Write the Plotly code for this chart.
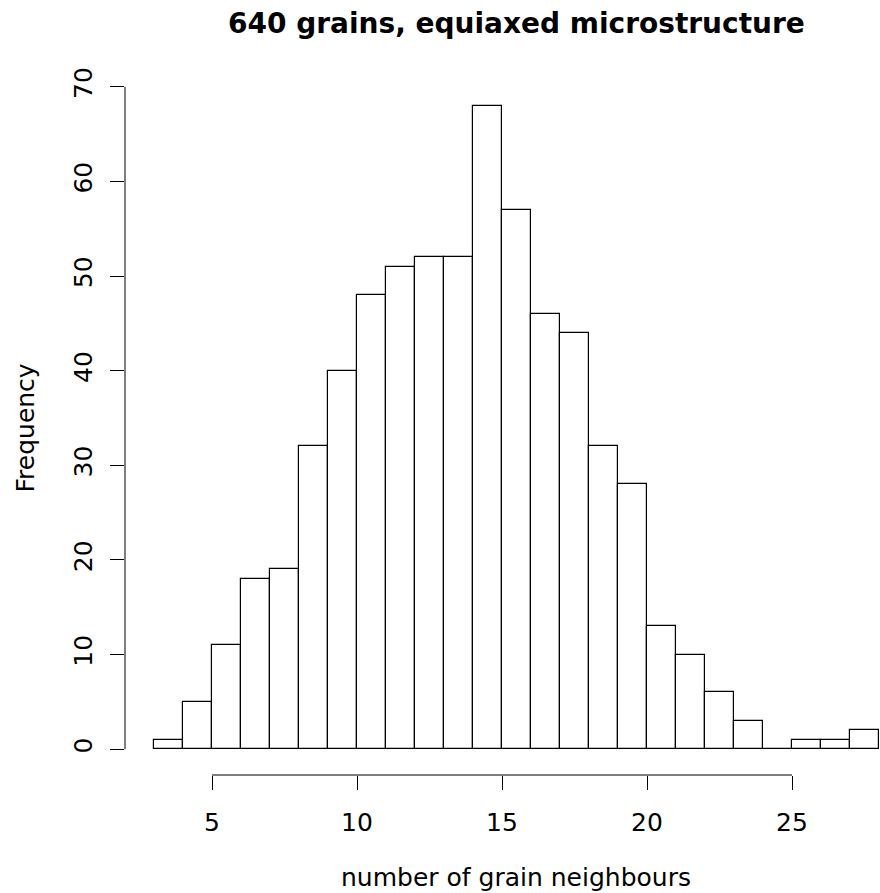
import plotly.graph_objects as go

# Histogram of grain-neighbour counts (unit-width bins from 3 to 28)
bin_left = list(range(3, 28))
counts = [1, 5, 11, 18, 19, 32, 40, 48, 51, 52, 52, 68, 57, 46, 44, 32, 28,
          13, 10, 6, 3, 0, 1, 1, 2]
x_ticks = [5, 10, 15, 20, 25]
y_ticks = [0, 10, 20, 30, 40, 50, 60, 70]

title_text = "640 grains, equiaxed microstructure"
x_label = "number of grain neighbours"
y_label = "Frequency"

W, H = 880, 893
L, R, T, B = 125, 0, 80, 118
FONT = "DejaVu Sans"
FS = 25

centers = [b + 0.5 for b in bin_left]

fig = go.Figure(go.Bar(
    x=centers, y=counts, width=1,
    marker=dict(color="white", line=dict(color="black", width=1.2)),
    hoverinfo="x+y",
))

pw = W - L - R
ph = H - T - B
x_lo = 2.0
x_hi = x_lo + pw / 29.0
y_lo, y_hi = -2.72, 70.72

axis_font = dict(family=FONT, size=FS, color="black")
fig.update_xaxes(range=[x_lo, x_hi], showgrid=False, zeroline=False,
                 showline=False, ticks="outside", ticklen=14, tickwidth=1,
                 tickcolor="black", tickvals=x_ticks, tickfont=axis_font,
                 ticklabelstandoff=11)
fig.update_yaxes(range=[y_lo, y_hi], showgrid=False, zeroline=False,
                 showline=False, ticks="outside", ticklen=14, tickwidth=1,
                 tickcolor="black", tickvals=y_ticks, tickangle=-90,
                 tickfont=axis_font, ticklabelstandoff=8)

# Axis lines span only the tick range
fig.add_shape(type="line", xref="x", yref="paper", x0=x_ticks[0], x1=x_ticks[-1],
              y0=0, y1=0, line=dict(color="black", width=1))
fig.add_shape(type="line", xref="paper", yref="y", x0=0, x1=0,
              y0=y_ticks[0], y1=y_ticks[-1], line=dict(color="black", width=1))

cx = (516 - L) / pw
fig.add_annotation(text="<b>" + title_text + "</b>", xref="paper", yref="paper",
                   x=cx, y=1 + (T - 24) / ph, xanchor="center", yanchor="middle",
                   showarrow=False, font=dict(family=FONT, size=28, color="black"))
fig.add_annotation(text=x_label, xref="paper", yref="paper",
                   x=cx, y=-(877 - (H - B)) / ph, xanchor="center", yanchor="middle",
                   showarrow=False, font=axis_font)
fig.add_annotation(text=y_label, xref="paper", yref="paper", textangle=-90,
                   x=(25 - L) / pw, y=0.5, xanchor="center", yanchor="middle",
                   showarrow=False, font=axis_font)

fig.update_layout(width=W, height=H, margin=dict(l=L, r=R, t=T, b=B),
                  plot_bgcolor="white", paper_bgcolor="white",
                  showlegend=False, bargap=0)

fig.write_html("out.html")
